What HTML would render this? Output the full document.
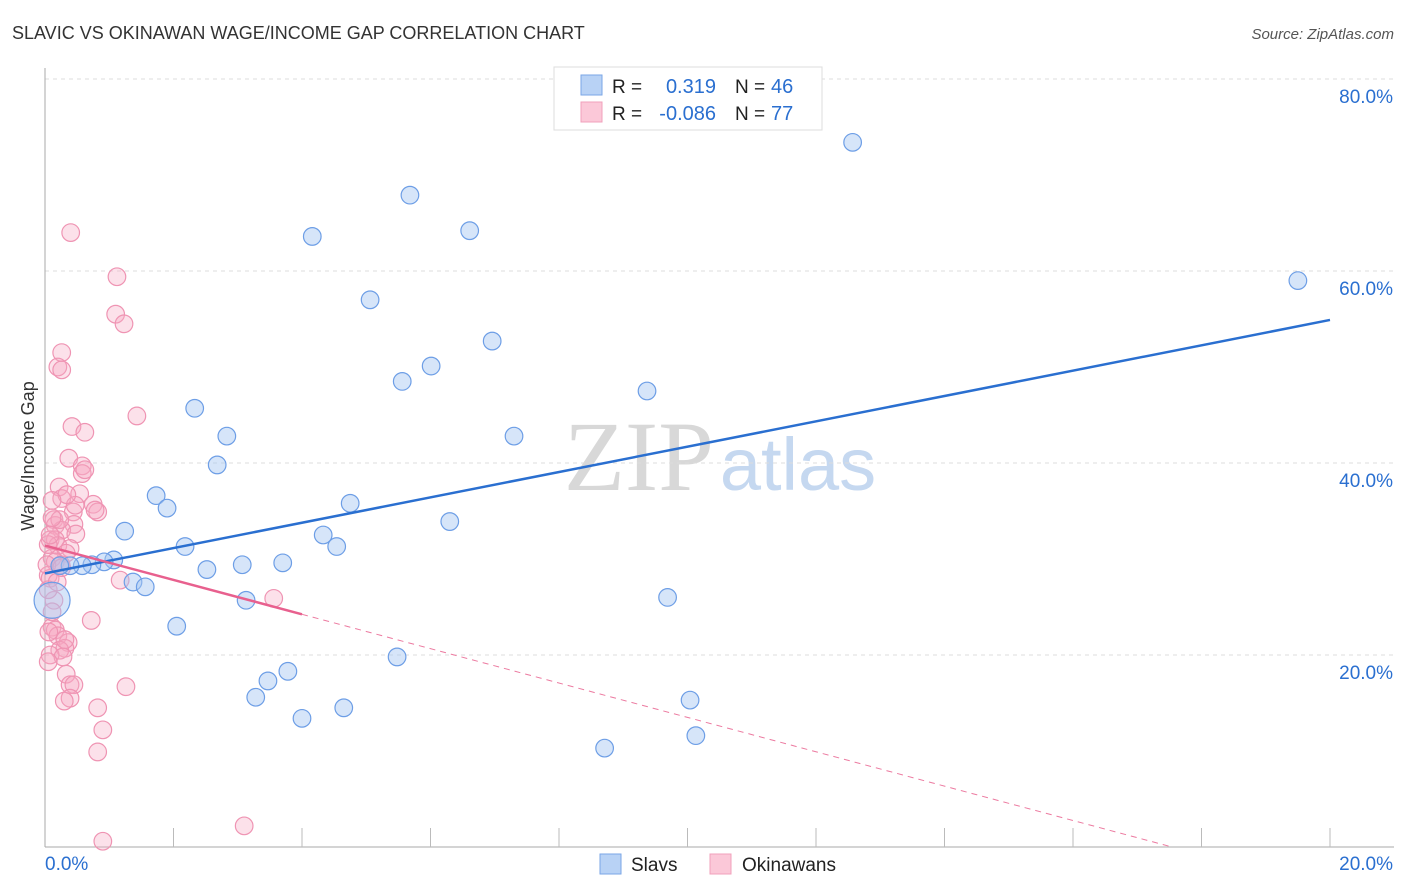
<!DOCTYPE html>
<html><head><meta charset="utf-8"><style>
body{margin:0;background:#fff;font-family:"Liberation Sans",sans-serif;}
svg{display:block}
</style></head><body>
<svg id="chart" width="1406" height="892" xmlns="http://www.w3.org/2000/svg" font-family="Liberation Sans, sans-serif">
<text x="12" y="39" font-size="18" fill="#333">SLAVIC VS OKINAWAN WAGE/INCOME GAP CORRELATION CHART</text>
<text x="1394" y="39" font-size="15" fill="#555" font-style="italic" text-anchor="end">Source: ZipAtlas.com</text>
<text x="720" y="490" font-size="100" text-anchor="middle"><tspan fill="#d8d8d8" font-family="Liberation Serif, serif">ZIP</tspan><tspan fill="#c5d8f0" font-size="74" dx="6">atlas</tspan></text>
<text transform="translate(34,456) rotate(-90)" font-size="18" fill="#333" text-anchor="middle">Wage/Income Gap</text>
<g id="grid"></g>
<g id="axes"></g>
<g id="marks"></g>
<g>
<rect x="554" y="67" width="268" height="63" fill="#fff" stroke="#ddd"/>
<rect x="581" y="75" width="21" height="20" fill="#b8d2f5" stroke="#7aa6e6"/>
<rect x="581" y="102" width="21" height="20" fill="#fbc8d8" stroke="#f0a0bb"/>
<text x="612" y="93" font-size="19" fill="#222">R =</text>
<text x="716" y="93" font-size="20" fill="#2a6fd0" text-anchor="end">0.319</text>
<text x="735" y="93" font-size="19" fill="#222">N =</text>
<text x="771" y="93" font-size="20" fill="#2a6fd0">46</text>
<text x="612" y="120" font-size="19" fill="#222">R =</text>
<text x="716" y="120" font-size="20" fill="#2a6fd0" text-anchor="end">-0.086</text>
<text x="735" y="120" font-size="19" fill="#222">N =</text>
<text x="771" y="120" font-size="20" fill="#2a6fd0">77</text>
</g>
<g>
<rect x="600" y="854" width="21" height="20" fill="#b8d2f5" stroke="#7aa6e6"/>
<text x="631" y="871" font-size="19" fill="#222">Slavs</text>
<rect x="710" y="854" width="21" height="20" fill="#fbc8d8" stroke="#f0a0bb"/>
<text x="742" y="871" font-size="19" fill="#222">Okinawans</text>
</g>
</svg>
<script>
const slavX=[12.57,5.68,4.16,6.61,19.50,5.06,6.96,5.56,6.01,9.37,2.33,2.83,7.30,2.68,1.73,4.75,1.90,6.30,1.24,4.33,4.54,2.18,1.07,0.92,0.73,0.58,0.39,0.23,3.07,3.70,2.52,1.37,1.56,3.13,9.69,2.05,5.48,3.78,3.47,3.28,10.04,4.00,4.65,10.13,8.71,0.11];
const slavY=[73.4,67.9,63.6,64.2,59.0,57.0,52.7,48.5,50.1,47.5,45.7,42.8,42.8,39.8,36.6,35.8,35.3,33.9,32.9,32.5,31.3,31.3,29.9,29.7,29.4,29.3,29.3,29.3,29.4,29.6,28.9,27.6,27.1,25.7,26.0,23.0,19.8,18.3,17.3,15.6,15.3,13.4,14.5,11.6,10.3,25.7];
const okiX=[0.40,1.12,1.10,1.23,0.26,0.20,0.26,1.43,0.42,0.62,0.37,0.58,0.58,0.22,0.54,0.26,0.75,0.14,0.82,0.16,0.44,0.45,0.26,0.48,0.08,0.16,0.20,0.39,0.33,0.11,0.16,0.05,0.08,0.25,1.17,0.14,0.72,0.11,0.16,0.20,0.36,0.31,0.23,0.08,0.28,0.05,0.33,0.39,0.45,1.26,0.39,0.30,0.82,0.90,0.82,3.10,0.90,3.56,0.05,0.03,0.08,0.23,0.11,0.47,0.31,0.11,0.05,0.19,0.62,0.34,0.78,0.11,0.26,0.06];
const okiY=[64.0,59.4,55.5,54.5,51.5,50.0,49.7,44.9,43.8,43.2,40.5,39.7,38.9,37.5,36.8,36.3,35.7,34.1,34.9,33.5,34.9,33.6,33.0,32.6,32.0,32.0,31.4,31.1,30.6,30.1,29.7,28.3,28.0,29.4,27.8,25.7,23.6,22.9,22.6,22.0,21.3,20.7,20.5,20.0,19.8,19.3,18.0,16.9,16.9,16.7,15.5,15.2,14.5,12.2,9.9,2.2,0.6,25.9,31.5,29.4,32.5,34.1,34.3,35.6,21.6,24.5,26.8,27.6,39.3,36.7,35.1,36.1,29.1,22.4];
const yTicks=[20,40,60,80];
const yTickLabels=["20.0%","40.0%","60.0%","80.0%"];
const slavTrend=[28.5,54.9];   // y at x=0 and x=20
const okiTrend=[31.4,-1.79];   // intercept, slope per %
const NS="http://www.w3.org/2000/svg";
const X=v=>45+v*64.25, Y=v=>847-v*9.6;
function mk(tag,attrs,parent){const e=document.createElementNS(NS,tag);for(const k in attrs)e.setAttribute(k,attrs[k]);parent.appendChild(e);return e;}
const grid=document.getElementById('grid'),axes=document.getElementById('axes'),marks=document.getElementById('marks');
yTicks.forEach((t,i)=>{
 const l=mk('line',{x1:45,x2:1394,y1:Y(t),y2:Y(t),stroke:'#ddd','stroke-dasharray':'4,4'},grid);
 
 
 const tx=mk('text',{x:1393,y:Y(t)+24,'font-size':19,fill:'#2a6fd0','text-anchor':'end'},axes);
 tx.textContent=yTickLabels[i];
 
 
});
const ax=mk('line',{x1:45,x2:45,y1:68,y2:847,stroke:'#aaa'},axes);


const bx=mk('line',{x1:45,x2:1394,y1:847,y2:847,stroke:'#aaa'},axes);


for(let i=1;i<=10;i++){const t=mk('line',{x1:X(i*2),x2:X(i*2),y1:828,y2:847,stroke:'#bbb'},axes);
 
 }
const xl0=mk('text',{x:45,y:870,'font-size':19,fill:'#2a6fd0'},axes);xl0.textContent='0.0%';


const xl1=mk('text',{x:1393,y:870,'font-size':19,fill:'#2a6fd0','text-anchor':'end'},axes);xl1.textContent='20.0%';


okiX.forEach((x,i)=>{const c=mk('circle',{cx:X(x),cy:Y(okiY[i]),r:8.8,fill:'rgba(247,170,196,0.35)',stroke:'#ef94b3','stroke-width':1.2},marks);
 
 });
slavX.forEach((x,i)=>{const big=i===slavX.length-1;const c=mk('circle',{cx:X(x),cy:Y(slavY[i]),r:big?18:8.8,fill:'rgba(165,198,242,0.45)',stroke:'#6d9ee6','stroke-width':1.2},marks);
 
 });
const st=mk('line',{x1:X(0),y1:Y(slavTrend[0]),x2:X(20),y2:Y(slavTrend[1]),stroke:'#2a6fd0','stroke-width':2.5},marks);


const oe=-okiTrend[0]/okiTrend[1];
const od=mk('line',{x1:X(4),y1:Y(okiTrend[0]+okiTrend[1]*4),x2:X(oe),y2:Y(0),stroke:'#ec7aa0','stroke-width':1,'stroke-dasharray':'6,5'},marks);


const os=mk('line',{x1:X(0),y1:Y(okiTrend[0]),x2:X(4),y2:Y(okiTrend[0]+okiTrend[1]*4),stroke:'#e8608e','stroke-width':2.5},marks);


</script>
</body></html>
